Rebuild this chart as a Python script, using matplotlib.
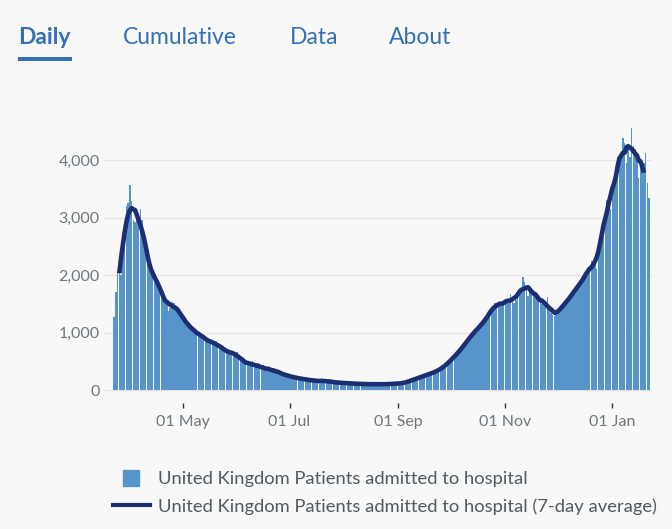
import matplotlib

matplotlib.use("Agg")
import matplotlib.dates as mdates
import matplotlib.pyplot as plt
import pandas as pd
from matplotlib.lines import Line2D
from matplotlib.patches import Rectangle

plt.rcParams["font.family"] = ["Lato", "DejaVu Sans"]

# ---- data: UK patients admitted to hospital, daily from 23 Mar 2020 ----
start = "2020-03-23"
admissions = [
    1270, 1710, 2090, 2050, 2000, 2400, 2700, 3200, 3250, 3570,
    3290, 2960, 2930, 2950, 3050, 3150, 2950, 2700, 2350, 2200,
    2100, 2080, 2050, 1980, 1950, 1870, 1720, 1700, 1640, 1560,
    1500, 1380, 1420, 1530, 1510, 1470, 1440, 1350, 1280, 1260,
    1210, 1180, 1150, 1130, 1050, 1040, 1000, 990, 1010, 960,
    920, 940, 880, 860, 850, 830, 800, 820, 860, 780,
    760, 730, 700, 690, 700, 680, 640, 620, 640, 600,
    660, 610, 540, 500, 480, 470, 460, 450, 440, 500,
    430, 420, 410, 400, 380, 440, 370, 360, 350, 340,
    345, 380, 330, 310, 300, 290, 280, 270, 255, 250,
    240, 235, 225, 215, 210, 205, 200, 195, 190, 185,
    180, 175, 170, 165, 165, 160, 160, 155, 150, 155,
    150, 190, 145, 140, 140, 135, 135, 130, 130, 125,
    125, 120, 120, 118, 115, 115, 112, 110, 110, 108,
    106, 105, 104, 103, 102, 101, 100, 100, 100, 101,
    102, 100, 99, 98, 100, 102, 104, 103, 105, 106,
    108, 110, 112, 115, 118, 122, 128, 135, 145, 160,
    175, 190, 200, 205, 215, 230, 240, 250, 258, 270,
    280, 290, 300, 310, 330, 345, 365, 385, 400, 420,
    460, 490, 520, 550, 590, 610, 640, 680, 720, 760,
    800, 850, 880, 920, 960, 1000, 1030, 1060, 1100, 1120,
    1150, 1180, 1240, 1290, 1330, 1380, 1430, 1520, 1480, 1500,
    1470, 1500, 1520, 1530, 1510, 1560, 1670, 1560, 1520, 1560,
    1680, 1650, 1700, 1960, 1880, 1760, 1640, 1760, 1770, 1740,
    1700, 1600, 1560, 1540, 1500, 1480, 1550, 1620, 1420, 1340,
    1300, 1280, 1320, 1350, 1400, 1450, 1480, 1500, 1540, 1580,
    1600, 1650, 1700, 1760, 1800, 1850, 1850, 1900, 1950, 2000,
    2050, 2150, 2250, 2150, 2200, 2100, 2350, 2450, 2600, 3000,
    3150, 3300, 3250, 3150, 3350, 3600, 3850, 4050, 3900, 4100,
    4380, 4290, 3950, 4200, 4060, 4560, 4250, 4200, 4130, 3690,
    3900, 3850, 3950, 4120, 3600, 3340,
]
tabs = ["Daily", "Cumulative", "Data", "About"]
y_ticks = [0, 1000, 2000, 3000, 4000]
x_ticks = ["2020-05-01", "2020-07-01", "2020-09-01", "2020-11-01", "2021-01-01"]
bar_label = "United Kingdom Patients admitted to hospital"
line_label = "United Kingdom Patients admitted to hospital (7-day average)"

BG = "#f8f8f8"
C_BAR = "#5694ca"
C_LINE = "#1d2f73"
C_TAB = "#3470b5"
C_TICK = "#6f777b"
C_TEXT = "#505a5f"

dates = pd.date_range(start, periods=len(admissions), freq="D")
s = pd.Series(admissions, index=dates)
avg = s.rolling(7, center=True).mean()

fig = plt.figure(figsize=(6.72, 5.29), dpi=100, facecolor=BG)

# ---- tab header ----
tab_x = [18, 123, 290, 389]
for name, x in zip(tabs, tab_x):
    fig.text(
        x / 672, 1 - 38 / 529, name, fontsize=16.5, color=C_TAB, va="center", ha="left",
        fontweight="bold" if name == "Daily" else "normal",
    )
fig.patches.append(
    Rectangle((18 / 672, 1 - 61 / 529), 54 / 672, 4.5 / 529, transform=fig.transFigure,
              color=C_TAB, lw=0)
)

# ---- chart ----
ax = fig.add_axes([104 / 672, (529 - 403) / 529, 548 / 672, 293 / 529])
ax.set_facecolor(BG)
for yv in y_ticks:
    ax.axhline(yv, color="#e6e6e6", lw=1, zorder=0)
ax.bar(dates, s.values, width=0.9, color=C_BAR, lw=0, zorder=2)
ax.plot(avg.index, avg.values, color=C_LINE, lw=3.3, zorder=3, solid_capstyle="butt")

d0 = mdates.date2num(pd.Timestamp(start))
ax.set_xlim(d0 - 5.75, d0 + 306.6)
ax.set_ylim(-226, 4870)
ax.set_yticks(y_ticks)
ax.set_yticklabels([f"{v:,}" for v in y_ticks])
ax.set_xticks([pd.Timestamp(t) for t in x_ticks])
ax.xaxis.set_major_formatter(mdates.DateFormatter("%d %b"))
ax.tick_params(axis="y", length=0, pad=3, labelsize=11.5, labelcolor=C_TICK)
ax.tick_params(axis="x", length=3.6, width=1, color="#333333", pad=5,
               labelsize=11.5, labelcolor=C_TICK)
for sp in ax.spines.values():
    sp.set_visible(False)

# ---- legend ----
handles = [
    Line2D([], [], ls="none", marker="s", ms=11, color=C_BAR),
    Line2D([], [], color=C_LINE, lw=3),
]
fig.legend(
    handles, [bar_label, line_label], loc="upper left",
    bbox_to_anchor=(113 / 672, 1 - 471 / 529), frameon=False, fontsize=13.2,
    handlelength=2.0, handletextpad=0.45, labelspacing=0.6, labelcolor=C_TEXT,
    borderpad=0, borderaxespad=0,
)

fig.savefig("out.png", dpi=100, facecolor=BG)
